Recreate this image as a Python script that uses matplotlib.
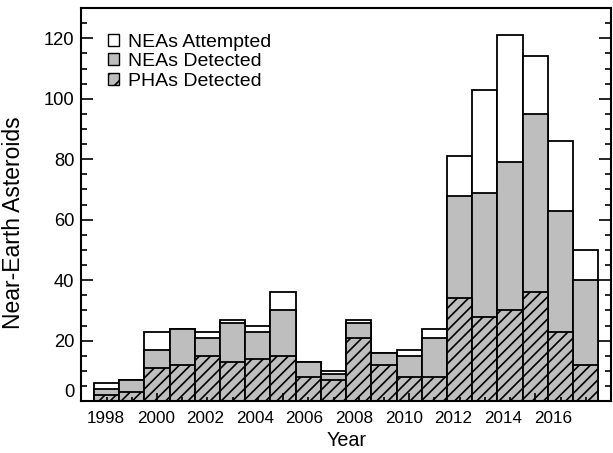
import matplotlib
matplotlib.use('Agg')
import matplotlib.pyplot as plt
from matplotlib.patches import Patch
from matplotlib.ticker import MultipleLocator

years = list(range(1998, 2018))
neas_attempted = [6, 7, 23, 24, 23, 27, 25, 36, 13, 10, 27, 16, 17, 24, 81, 103, 121, 114, 86, 50]
neas_detected = [4, 7, 17, 24, 21, 26, 23, 30, 13, 9, 26, 16, 15, 21, 68, 69, 79, 95, 63, 40]
phas_detected = [2, 3, 11, 12, 15, 13, 14, 15, 8, 7, 21, 12, 8, 8, 34, 28, 30, 36, 23, 12]
tick_years = list(range(1998, 2017, 2))
tick_labels = [str(y) for y in tick_years]
y_ticks = [0, 20, 40, 60, 80, 100, 120]

plt.rcParams['font.family'] = ['Liberation Sans', 'DejaVu Sans']
plt.rcParams['hatch.linewidth'] = 1.2
plt.rcParams['hatch.color'] = 'black'

GRAY = '#bebebe'
fig = plt.figure(figsize=(6.13, 4.53), dpi=100)
ax = fig.add_axes([0.1326, 0.1143, 0.8641, 0.8680])

ax.bar(years, neas_attempted, width=1.0, color='white', edgecolor='black', linewidth=1.3, zorder=1)
ax.bar(years, neas_detected, width=1.0, color=GRAY, edgecolor='black', linewidth=1.3, zorder=1.1)
ax.bar(years, phas_detected, width=1.0, color=GRAY, edgecolor='black', linewidth=1.3,
       hatch='///', zorder=1.2)

ax.set_xlim(1997, 2018)
ax.set_ylim(0, 130)

ax.set_yticks(y_ticks)
ax.set_yticklabels([str(v) for v in y_ticks])
ax.yaxis.set_minor_locator(MultipleLocator(5))
ax.xaxis.set_major_locator(MultipleLocator(5))
ax.xaxis.set_minor_locator(MultipleLocator(1))
ax.tick_params(axis='x', which='major', direction='in', length=5.5, width=1.2,
               top=True, bottom=True, labelbottom=False)
ax.tick_params(axis='x', which='minor', direction='in', length=3, width=1.2,
               top=True, bottom=True)
ax.tick_params(axis='y', which='major', direction='in', length=8.5, width=1.2,
               left=True, right=True, labelsize=13.2, pad=5)
ax.tick_params(axis='y', which='minor', direction='in', length=4.5, width=1.2,
               left=True, right=True)
ax.yaxis.get_major_ticks()[0].label1.set_verticalalignment('bottom')
for s in ax.spines.values():
    s.set_linewidth(1.5)

# year labels on a separate (tickless) axis
ax2 = ax.twiny()
ax2.set_xlim(1997.0, 2018.34)
ax2.xaxis.set_ticks_position('bottom')
ax2.xaxis.set_label_position('bottom')
ax2.set_xticks(tick_years)
ax2.set_xticklabels(tick_labels)
ax2.tick_params(axis='x', length=0, labelsize=12.3, pad=7)
for s in ax2.spines.values():
    s.set_visible(False)
ax2.set_xlabel('Year', fontsize=14.2, labelpad=4)

ax.set_ylabel('Near-Earth Asteroids', fontsize=16.5)
ax.yaxis.set_label_coords(-0.106, 0.455)

handles = [Patch(facecolor='white', edgecolor='black', linewidth=1.0),
           Patch(facecolor=GRAY, edgecolor='black', linewidth=1.0),
           Patch(facecolor=GRAY, edgecolor='black', linewidth=1.0, hatch='//')]
ax.legend(handles, ['NEAs Attempted', 'NEAs Detected', 'PHAs Detected'],
          loc='upper left', bbox_to_anchor=(0.05, 0.935), frameon=False,
          fontsize=14, handlelength=0.6, handleheight=0.6, handletextpad=0.45,
          labelspacing=0.13, borderaxespad=0, borderpad=0)

fig.savefig('out.png', dpi=100)
